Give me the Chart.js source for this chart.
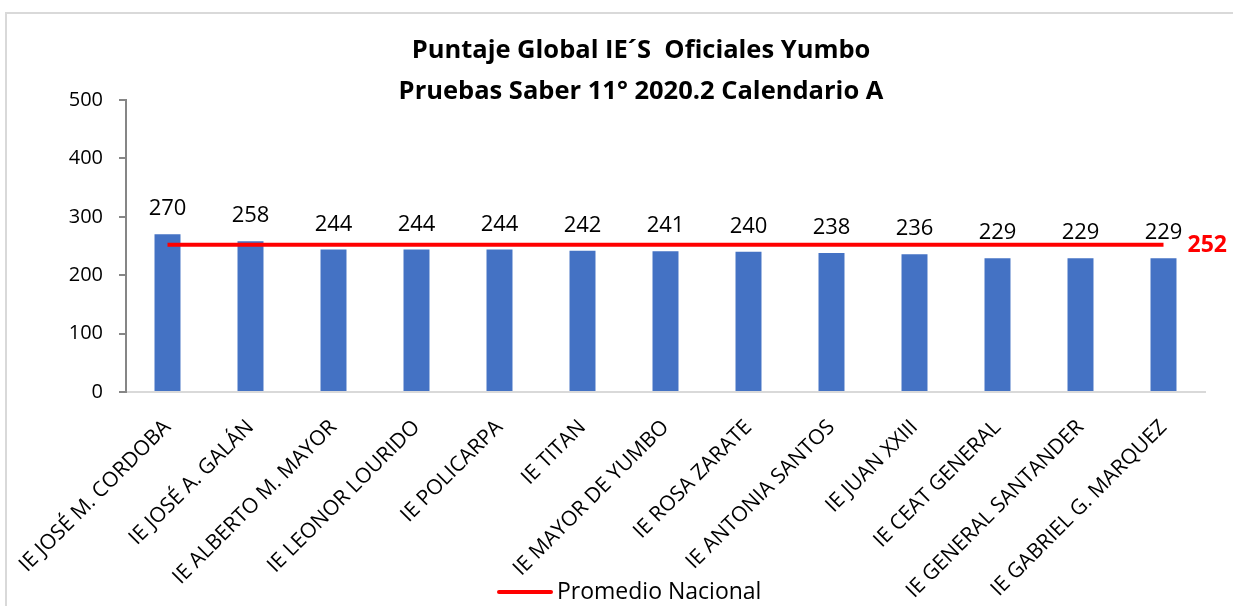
<!DOCTYPE html>
<html>
<head>
<meta charset="utf-8">
<script src="https://cdn.jsdelivr.net/npm/chart.js@4/dist/chart.umd.min.js"></script>
<style>
html,body{margin:0;padding:0;background:#fff;}
#wrap{width:1233px;height:606px;position:relative;}
</style>
</head>
<body>
<div id="wrap"><canvas id="c" width="1233" height="606"></canvas></div>
<script>
const categories = [
  "IE JOSÉ M. CORDOBA", "IE JOSÉ A. GALÁN", "IE ALBERTO M. MAYOR", "IE LEONOR LOURIDO",
  "IE POLICARPA", "IE TITAN", "IE MAYOR DE YUMBO", "IE ROSA ZARATE", "IE ANTONIA SANTOS",
  "IE JUAN XXIII", "IE CEAT GENERAL", "IE GENERAL SANTANDER", "IE GABRIEL G. MARQUEZ"
];
const puntajeGlobal = [270, 258, 244, 244, 244, 242, 241, 240, 238, 236, 229, 229, 229];
const promedioNacional = [252, 252, 252, 252, 252, 252, 252, 252, 252, 252, 252, 252, 252];
const yTicks = [0, 100, 200, 300, 400, 500];
const titleLines = ["Puntaje Global IE´S  Oficiales Yumbo", "Pruebas Saber 11° 2020.2 Calendario A"];
const legendLabel = "Promedio Nacional";

const FONT = "'Open Sans', sans-serif";

const framePlugin = {
  id: 'frame',
  beforeDraw(chart) {
    const ctx = chart.ctx;
    ctx.save();
    ctx.fillStyle = '#fff';
    ctx.fillRect(0, 0, chart.width, chart.height);
    ctx.strokeStyle = '#d9d9d9';
    ctx.lineWidth = 2;
    ctx.beginPath();
    ctx.moveTo(6, chart.height);
    ctx.lineTo(6, 13);
    ctx.lineTo(chart.width, 13);
    ctx.stroke();
    ctx.restore();
  },
  afterDraw(chart) {
    const ctx = chart.ctx;
    ctx.save();
    // title
    ctx.fillStyle = '#000';
    ctx.font = "bold 25.5px " + FONT;
    ctx.textAlign = 'center';
    ctx.textBaseline = 'middle';
    ctx.fillText(titleLines[0], 641, 51);
    ctx.fillText(titleLines[1], 641, 92);
    // legend
    const ds = chart.data.datasets[1];
    const ly = 592;
    ctx.strokeStyle = ds.borderColor;
    ctx.lineWidth = 4;
    ctx.lineCap = 'round';
    ctx.beginPath();
    ctx.moveTo(499, ly);
    ctx.lineTo(551, ly);
    ctx.stroke();
    ctx.font = "23px " + FONT;
    ctx.fillStyle = '#000';
    ctx.textAlign = 'left';
    ctx.textBaseline = 'middle';
    ctx.fillText(ds.label, 557, ly);
    ctx.restore();
  }
};

const labelsPlugin = {
  id: 'valueLabels',
  afterDatasetsDraw(chart) {
    const ctx = chart.ctx;
    ctx.save();
    const barMeta = chart.getDatasetMeta(0);
    ctx.font = "22px " + FONT;
    ctx.fillStyle = '#000';
    ctx.textAlign = 'center';
    ctx.textBaseline = 'alphabetic';
    barMeta.data.forEach((el, i) => {
      ctx.fillText(String(puntajeGlobal[i]), el.x, el.y - 19);
    });
    const lineMeta = chart.getDatasetMeta(1);
    const last = lineMeta.data[lineMeta.data.length - 1];
    ctx.font = "bold 23px " + FONT;
    ctx.fillStyle = '#FF0000';
    ctx.textAlign = 'left';
    ctx.textBaseline = 'middle';
    ctx.fillText(String(promedioNacional[promedioNacional.length - 1]), last.x + 24, last.y + 1);
    ctx.restore();
  }
};

new Chart(document.getElementById('c'), {
  type: 'bar',
  data: {
    labels: categories,
    datasets: [
      {
        type: 'bar',
        label: 'Puntaje Global',
        data: puntajeGlobal,
        backgroundColor: '#4472C4',
        borderWidth: 0,
        categoryPercentage: 1,
        barPercentage: 0.313,
        order: 2
      },
      {
        type: 'line',
        label: legendLabel,
        data: promedioNacional,
        borderColor: '#FF0000',
        backgroundColor: '#FF0000',
        borderWidth: 4,
        pointRadius: 0,
        pointHoverRadius: 0,
        fill: false,
        order: 1
      }
    ]
  },
  options: {
    responsive: false,
    animation: false,
    events: [],
    layout: { padding: { top: 100, left: 0, right: 28, bottom: 0 } },
    plugins: {
      title: { display: false },
      tooltip: { enabled: false },
      legend: { display: false }
    },
    scales: {
      x: {
        grid: { display: false },
        border: { display: true, color: '#d9d9d9', width: 2 },
        ticks: {
          autoSkip: false,
          minRotation: 45,
          maxRotation: 45,
          padding: 15,
          color: '#000',
          font: { family: FONT, size: 21 }
        },
        afterFit(scale) { scale.height = 214; }
      },
      y: {
        min: 0,
        max: 500,
        afterBuildTicks(scale) { scale.ticks = yTicks.map(v => ({ value: v })); },
        grid: { display: true, drawOnChartArea: false, drawTicks: true, tickLength: 7, color: '#868686', lineWidth: 2 },
        border: { display: true, color: '#868686', width: 2 },
        ticks: {
          padding: 16,
          color: '#000',
          font: { family: FONT, size: 20 }
        },
        afterFit(scale) { scale.width = 126; }
      }
    }
  },
  plugins: [framePlugin, labelsPlugin]
});
</script>
</body>
</html>
